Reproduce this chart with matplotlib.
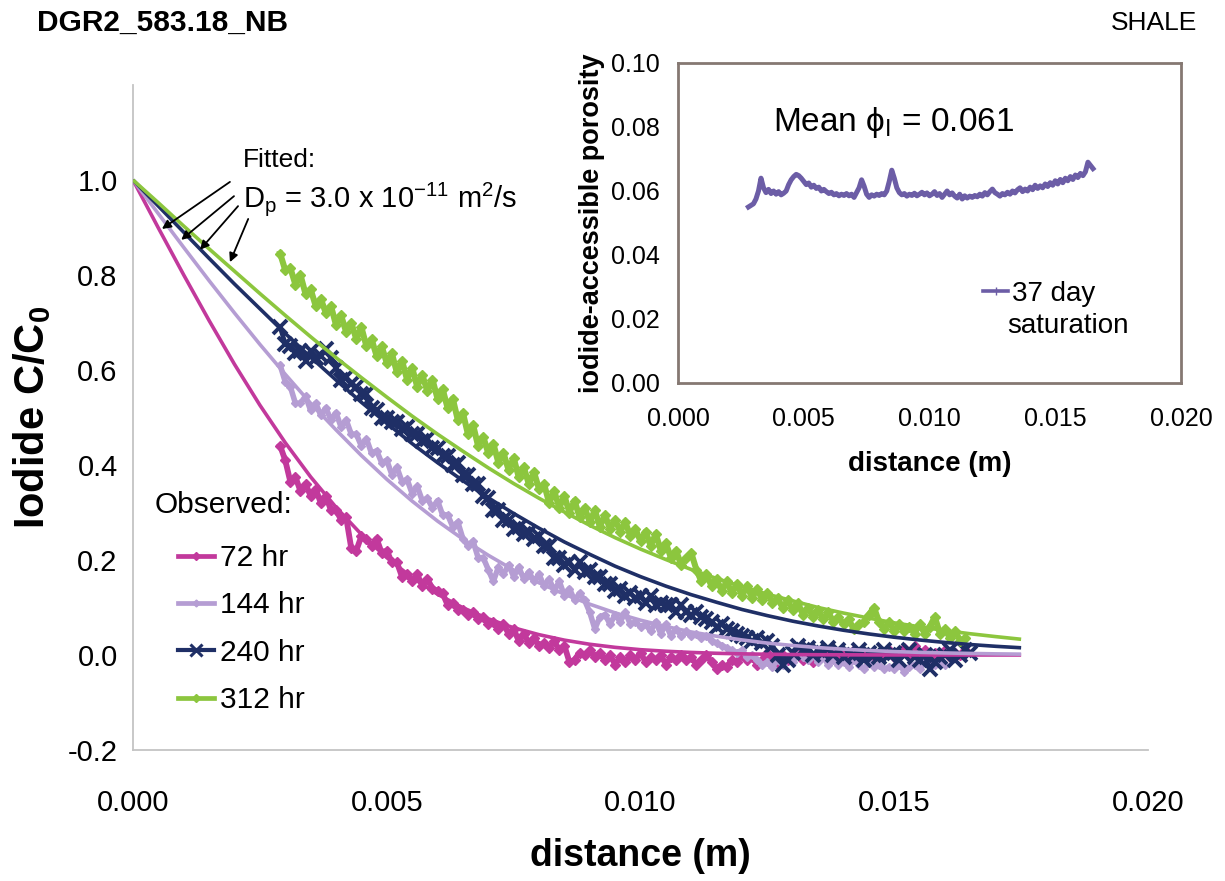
import numpy as np
import matplotlib
matplotlib.use("Agg")
import matplotlib.pyplot as plt
from matplotlib.lines import Line2D

plt.rcParams["font.family"] = ["Liberation Sans", "DejaVu Sans"]
plt.rcParams["mathtext.fontset"] = "custom"
plt.rcParams["mathtext.rm"] = "Liberation Sans"
plt.rcParams["mathtext.it"] = "Liberation Sans:italic"
plt.rcParams["mathtext.bf"] = "Liberation Sans:bold"
plt.rcParams["axes.unicode_minus"] = False

# ---------------- data ----------------
# observed profiles: first position and spacing of the sample slices (m)
OBS_X0 = 0.0029
OBS_STEP = 0.0001

obs_72 = [
    0.44, 0.41, 0.365, 0.375, 0.345, 0.36, 0.335, 0.35, 0.32, 0.335,
    0.305, 0.305, 0.285, 0.29, 0.225, 0.22, 0.25, 0.245, 0.23, 0.245,
    0.215, 0.22, 0.195, 0.195, 0.165, 0.17, 0.155, 0.17, 0.145, 0.16,
    0.14, 0.135, 0.13, 0.105, 0.11, 0.095, 0.095, 0.085, 0.09, 0.075,
    0.08, 0.065, 0.07, 0.055, 0.065, 0.045, 0.055, 0.03, 0.045, 0.025,
    0.035, 0.02, 0.025, 0.015, 0.03, 0.01, 0.02, -0.015, -0.01, 0.005,
    0.0, 0.01, -0.005, 0.005, -0.01, 0.0, -0.02, -0.005, -0.015, 0.0,
    -0.01, 0.005, -0.015, -0.005, -0.01, 0.0, -0.02, -0.005, -0.01, 0.0,
    -0.01, -0.005, -0.02, -0.01, 0.0, -0.015, -0.03, -0.02, -0.025, -0.01,
    -0.015, 0.0, -0.01, -0.005, -0.02, -0.01, 0.005, -0.01, -0.02, 0.0,
    -0.01, -0.005, 0.01, -0.01, 0.0, -0.015, -0.005, 0.005, -0.01, 0.0,
    -0.01, 0.005, -0.005, 0.01, -0.01, 0.0, -0.015, 0.005, -0.005, 0.0,
    0.01, -0.005, 0.0, 0.015, 0.0, 0.02, 0.005, 0.01, -0.005, 0.005,
    0.0, 0.01, -0.005, 0.005, 0.0, 0.01,
]

obs_144 = [
    0.61, 0.575, 0.565, 0.53, 0.53, 0.545, 0.515, 0.53, 0.505, 0.52,
    0.495, 0.51, 0.48, 0.495, 0.465, 0.465, 0.44, 0.455, 0.425, 0.43,
    0.405, 0.41, 0.38, 0.395, 0.365, 0.37, 0.34, 0.355, 0.325, 0.33,
    0.31, 0.325, 0.295, 0.295, 0.27, 0.28, 0.245, 0.23, 0.24, 0.205,
    0.205, 0.18, 0.155, 0.185, 0.17, 0.19, 0.165, 0.185, 0.16, 0.175,
    0.155, 0.17, 0.145, 0.16, 0.135, 0.155, 0.125, 0.14, 0.115, 0.13,
    0.115, 0.09, 0.055, 0.08, 0.085, 0.065, 0.085, 0.07, 0.09, 0.065,
    0.07, 0.06, 0.065, 0.05, 0.07, 0.045, 0.065, 0.04, 0.055, 0.04,
    0.05, 0.04, 0.045, 0.035, 0.04, 0.03, 0.025, 0.02, 0.015, 0.01,
    0.005, 0.01, -0.005, 0.0, -0.01, -0.02, -0.015, -0.025, -0.01, -0.02,
    -0.005, -0.015, 0.0, -0.005, -0.01, 0.0, -0.015, -0.005, -0.02, -0.01,
    -0.02, -0.015, -0.025, -0.01, -0.02, -0.03, -0.015, -0.025, -0.02, -0.03,
    -0.025, -0.03, -0.02, -0.035, -0.025, -0.02, -0.03, -0.015, -0.025, -0.02,
    -0.015, -0.02,
]

obs_240 = [
    0.69, 0.655, 0.65, 0.635, 0.64, 0.62, 0.64, 0.625, 0.63, 0.645,
    0.625, 0.605, 0.58, 0.585, 0.57, 0.565, 0.55, 0.55, 0.52, 0.515,
    0.50, 0.50, 0.49, 0.49, 0.475, 0.48, 0.465, 0.465, 0.45, 0.455,
    0.435, 0.435, 0.42, 0.42, 0.40, 0.405, 0.38, 0.38, 0.36, 0.36,
    0.335, 0.33, 0.305, 0.305, 0.285, 0.285, 0.265, 0.27, 0.255, 0.26,
    0.245, 0.25, 0.23, 0.23, 0.205, 0.205, 0.19, 0.195, 0.18, 0.195,
    0.175, 0.18, 0.165, 0.165, 0.15, 0.15, 0.135, 0.14, 0.125, 0.13,
    0.12, 0.125, 0.11, 0.125, 0.105, 0.11, 0.105, 0.105, 0.09, 0.105,
    0.09, 0.085, 0.09, 0.08, 0.075, 0.07, 0.06, 0.065, 0.055, 0.05,
    0.045, 0.04, 0.035, 0.03, 0.035, 0.025, 0.03, 0.02, 0.0, -0.02,
    -0.01, 0.005, 0.02, 0.01, 0.015, 0.0, 0.01, 0.005, 0.015, 0.0,
    0.01, -0.005, 0.005, 0.0, 0.01, -0.01, 0.005, 0.0, -0.005, 0.01,
    0.0, 0.005, -0.01, 0.0, 0.01, -0.005, -0.01, 0.0, -0.03, -0.015,
    -0.005, 0.0, 0.01, -0.01, 0.0, 0.01, 0.005,
]

obs_312 = [
    0.845, 0.81, 0.815, 0.78, 0.80, 0.76, 0.77, 0.735, 0.75, 0.72,
    0.735, 0.695, 0.715, 0.68, 0.70, 0.665, 0.69, 0.65, 0.665, 0.63,
    0.65, 0.615, 0.635, 0.595, 0.62, 0.58, 0.605, 0.565, 0.59, 0.555,
    0.58, 0.54, 0.56, 0.52, 0.54, 0.495, 0.51, 0.465, 0.485, 0.44,
    0.46, 0.425, 0.445, 0.405, 0.425, 0.39, 0.415, 0.375, 0.395, 0.36,
    0.385, 0.35, 0.36, 0.32, 0.345, 0.31, 0.335, 0.30, 0.325, 0.29,
    0.31, 0.28, 0.305, 0.27, 0.295, 0.265, 0.285, 0.26, 0.28, 0.25,
    0.265, 0.24, 0.26, 0.23, 0.255, 0.22, 0.235, 0.205, 0.22, 0.19,
    0.205, 0.215, 0.18, 0.155, 0.17, 0.145, 0.16, 0.135, 0.155, 0.13,
    0.15, 0.125, 0.145, 0.12, 0.14, 0.115, 0.13, 0.11, 0.12, 0.10,
    0.115, 0.095, 0.11, 0.085, 0.10, 0.08, 0.095, 0.075, 0.09, 0.07,
    0.08, 0.065, 0.075, 0.055, 0.065, 0.07, 0.085, 0.10, 0.07, 0.055,
    0.07, 0.05, 0.065, 0.05, 0.06, 0.045, 0.065, 0.045, 0.06, 0.08,
    0.045, 0.055, 0.035, 0.05, 0.03, 0.035,
]

# fitted profiles (Dp = 3.0e-11 m2/s), tabulated every 0.5 mm
FIT_STEP = 0.0005
fit_72 = [
    1.0, 0.899, 0.800, 0.704, 0.612, 0.526, 0.447, 0.375, 0.311, 0.254,
    0.205, 0.163, 0.128, 0.0995, 0.0763, 0.0573, 0.0428, 0.0313, 0.0226, 0.0161,
    0.0112, 0.0079, 0.0054, 0.0036, 0.0024, 0.0016, 0.0010, 0.0006, 0.0004, 0.0002,
    0.0001, 0.0001, 0.0, 0.0, 0.0, 0.0,
]
fit_144 = [
    1.0, 0.929, 0.858, 0.788, 0.720, 0.654, 0.591, 0.530, 0.474, 0.420,
    0.370, 0.324, 0.282, 0.244, 0.210, 0.179, 0.152, 0.128, 0.107, 0.0887,
    0.0733, 0.0601, 0.0485, 0.0395, 0.0317, 0.0251, 0.0200, 0.0156, 0.0122, 0.0095,
    0.0072, 0.0056, 0.0043, 0.0033, 0.0024, 0.0018,
]
fit_240 = [
    1.0, 0.945, 0.890, 0.835, 0.781, 0.729, 0.677, 0.627, 0.579, 0.532,
    0.488, 0.445, 0.405, 0.367, 0.331, 0.298, 0.267, 0.238, 0.212, 0.187,
    0.165, 0.145, 0.127, 0.111, 0.0958, 0.0829, 0.0712, 0.0611, 0.0521, 0.0443,
    0.0374, 0.0316, 0.0264, 0.0220, 0.0183, 0.0152,
]
fit_312 = [
    1.0, 0.952, 0.903, 0.855, 0.808, 0.761, 0.715, 0.670, 0.626, 0.584,
    0.543, 0.503, 0.465, 0.429, 0.394, 0.361, 0.330, 0.301, 0.273, 0.247,
    0.223, 0.201, 0.180, 0.161, 0.144, 0.128, 0.114, 0.100, 0.0883, 0.0777,
    0.0677, 0.0594, 0.0515, 0.0447, 0.0387, 0.0331,
]

# iodide-accessible porosity profile after 37 days of saturation
PHI_X0 = 0.0028
PHI_STEP = 0.0001
phi_37d = [
    0.0550, 0.0555, 0.0560, 0.0575, 0.0600, 0.0640, 0.0610, 0.0595, 0.0605, 0.0592,
    0.0600, 0.0590, 0.0598, 0.0588, 0.0593, 0.0600, 0.0620, 0.0635, 0.0645, 0.0652,
    0.0648, 0.0640, 0.0630, 0.0620, 0.0625, 0.0612, 0.0618, 0.0608, 0.0612, 0.0600,
    0.0605, 0.0598, 0.0592, 0.0596, 0.0588, 0.0592, 0.0585, 0.0590, 0.0586, 0.0592,
    0.0585, 0.0590, 0.0580, 0.0595, 0.0610, 0.0635, 0.0615, 0.0590, 0.0580, 0.0588,
    0.0584, 0.0590, 0.0586, 0.0592, 0.0588, 0.0600, 0.0630, 0.0665, 0.0640, 0.0610,
    0.0595, 0.0588, 0.0592, 0.0584, 0.0590, 0.0586, 0.0593, 0.0585, 0.0590, 0.0596,
    0.0588, 0.0594, 0.0585, 0.0590, 0.0598, 0.0586, 0.0592, 0.0580, 0.0590, 0.0600,
    0.0588, 0.0594, 0.0584, 0.0578, 0.0590, 0.0575, 0.0585, 0.0578, 0.0584, 0.0580,
    0.0586, 0.0582, 0.0590, 0.0584, 0.0595, 0.0588, 0.0598, 0.0606, 0.0595, 0.0590,
    0.0584, 0.0592, 0.0588, 0.0596, 0.0590, 0.0600, 0.0594, 0.0604, 0.0610, 0.0598,
    0.0606, 0.0600, 0.0612, 0.0604, 0.0618, 0.0608, 0.0616, 0.0610, 0.0622, 0.0614,
    0.0626, 0.0618, 0.0632, 0.0622, 0.0636, 0.0626, 0.0640, 0.0632, 0.0645, 0.0636,
    0.0650, 0.0642, 0.0655, 0.0648, 0.0660, 0.0690, 0.0680, 0.0670,
]

series_labels = ["72 hr", "144 hr", "240 hr", "312 hr"]
main_xticks = [0.000, 0.005, 0.010, 0.015, 0.020]
main_xticklabels = ["0.000", "0.005", "0.010", "0.015", "0.020"]
main_yticks = [-0.2, 0.0, 0.2, 0.4, 0.6, 0.8, 1.0]
main_yticklabels = ["-0.2", "0.0", "0.2", "0.4", "0.6", "0.8", "1.0"]
inset_yticks = [0.00, 0.02, 0.04, 0.06, 0.08, 0.10]
inset_yticklabels = ["0.00", "0.02", "0.04", "0.06", "0.08", "0.10"]

# ---------------- styling ----------------
C72 = "#C2399C"
C144 = "#B59DD3"
C240 = "#1F2F66"
C312 = "#8CC63E"
CPHI = "#6C5DA6"
FRAME = "#857872"
AXIS_GRAY = "#C4C4C4"

W, H = 1225, 881


def fx(px):
    return px / W


def fy(py):
    return 1 - py / H


fig = plt.figure(figsize=(W / 100, H / 100), dpi=100)
fig.patch.set_facecolor("white")

# ---------------- main concentration profile axes ----------------
ax = fig.add_axes([fx(133), fy(750), (1148 - 133) / W, (750 - 85) / H])
ax.set_xlim(0, 0.020)
ax.set_ylim(-0.2, 1.2)

obs_sets = [obs_72, obs_144, obs_240, obs_312]
obs_styles = [
    dict(color=C72, lw=4.2, marker="D", ms=5),
    dict(color=C144, lw=4.0, marker="D", ms=4.5),
    dict(color=C240, lw=3.4, marker="x", ms=10, mew=2.8),
    dict(color=C312, lw=4.4, marker="D", ms=5),
]
for yv, st in zip(obs_sets, obs_styles):
    xv = np.round(OBS_X0 + OBS_STEP * np.arange(len(yv)), 5)
    ax.plot(xv, yv, zorder=2, **st)

fit_sets = [fit_72, fit_144, fit_240, fit_312]
fit_colors = [C72, C144, C240, C312]
for yv, c in zip(fit_sets, fit_colors):
    xv = np.round(FIT_STEP * np.arange(len(yv)), 5)
    ax.plot(xv, yv, color=c, lw=2.6, zorder=3, solid_capstyle="butt")

for side in ["top", "right"]:
    ax.spines[side].set_visible(False)
for side in ["left", "bottom"]:
    ax.spines[side].set_color(AXIS_GRAY)
    ax.spines[side].set_linewidth(1.3)

ax.set_xticks(main_xticks)
ax.set_xticklabels(main_xticklabels)
ax.set_yticks(main_yticks)
ax.set_yticklabels(main_yticklabels)
ax.tick_params(length=0, labelsize=21)
ax.tick_params(axis="x", pad=28)
ax.tick_params(axis="y", pad=11)

ax.set_xlabel("distance (m)", fontsize=27, fontweight="bold")
ax.xaxis.set_label_coords(0.5, (750 - 838) / 665)
ax.set_ylabel("Iodide C/C$_\\mathbf{0}$", fontsize=30, fontweight="bold")
ax.yaxis.set_label_coords((53 - 133) / 1015, 0.5)

# arrows pointing at the fitted curves
arrow_heads = [(0.00057, 0.897), (0.00095, 0.874), (0.00132, 0.853), (0.00191, 0.827)]
arrow_tails = [(0.00191, 0.996), (0.00199, 0.966), (0.00207, 0.945), (0.00227, 0.918)]
for head, tail in zip(arrow_heads, arrow_tails):
    ax.annotate("", xy=head, xytext=tail,
                arrowprops=dict(arrowstyle="-|>", color="black", lw=1.3,
                                mutation_scale=13, shrinkA=0, shrinkB=0),
                zorder=5)

fig.text(fx(243), fy(160), "Fitted:", fontsize=19, va="center", ha="left")
fig.text(fx(243), fy(199), "D$_{\\rm p}$ = 3.0 x 10$^{-11}$ m$^{2}$/s",
         fontsize=21, va="center", ha="left")

# observed legend
handles = [
    Line2D([], [], color=C72, lw=3.4, marker="D", ms=4),
    Line2D([], [], color=C144, lw=3.4, marker="D", ms=3.5),
    Line2D([], [], color=C240, lw=3.0, marker="x", ms=8, mew=2.2),
    Line2D([], [], color=C312, lw=3.4, marker="D", ms=4),
]
leg = ax.legend(handles, series_labels, loc="upper left",
                bbox_to_anchor=(fx(178), fy(544)), bbox_transform=fig.transFigure,
                frameon=False, fontsize=21.5, handlelength=1.2, handletextpad=0.2,
                labelspacing=0.65, borderpad=0, borderaxespad=0, markerscale=1)
fig.text(fx(155), fy(505), "Observed:", fontsize=21.5, va="center", ha="left")

# header texts
fig.text(fx(37), fy(23), "DGR2_583.18_NB", fontsize=21.5, fontweight="bold",
         va="center", ha="left")
fig.text(fx(1197), fy(23), "SHALE", fontsize=19, va="center", ha="right")

# ---------------- porosity inset ----------------
ax_in = fig.add_axes([fx(678), fy(383), (1181 - 678) / W, (383 - 63) / H])
ax_in.set_xlim(0, 0.020)
ax_in.set_ylim(0, 0.10)
xp = np.round(PHI_X0 + PHI_STEP * np.arange(len(phi_37d)), 5)
ax_in.plot(xp, phi_37d, color=CPHI, lw=3.6)
for side in ax_in.spines.values():
    side.set_color(FRAME)
    side.set_linewidth(2)
ax_in.set_xticks(main_xticks)
ax_in.set_xticklabels(main_xticklabels)
ax_in.set_yticks(inset_yticks)
ax_in.set_yticklabels(inset_yticklabels)
ax_in.tick_params(length=0, labelsize=18)
ax_in.tick_params(axis="x", pad=17)
ax_in.tick_params(axis="y", pad=13)
ax_in.set_xlabel("distance (m)", fontsize=20, fontweight="bold")
ax_in.xaxis.set_label_coords(0.5, (383 - 451) / 320)
ax_in.set_ylabel("iodide-accessible porosity", fontsize=19.5, fontweight="bold")
ax_in.yaxis.set_label_coords((605 - 678) / 503, 0.5)

ax_in.text(fx(773), fy(122), "Mean ϕ$_{\\rm I}$ = 0.061", transform=fig.transFigure,
           fontsize=24, va="center", ha="left")

ax_in.legend([Line2D([], [], color=CPHI, lw=2.6, marker="|", ms=6)], ["37 day"],
             loc="upper left", bbox_to_anchor=(fx(983), fy(281)),
             bbox_transform=fig.transFigure, frameon=False, fontsize=20,
             handlelength=0.9, handletextpad=0.15, borderpad=0, borderaxespad=0)
fig.text(fx(1007), fy(326), "saturation", fontsize=20, va="center", ha="left")

fig.savefig("out.png", dpi=100, facecolor="white")
